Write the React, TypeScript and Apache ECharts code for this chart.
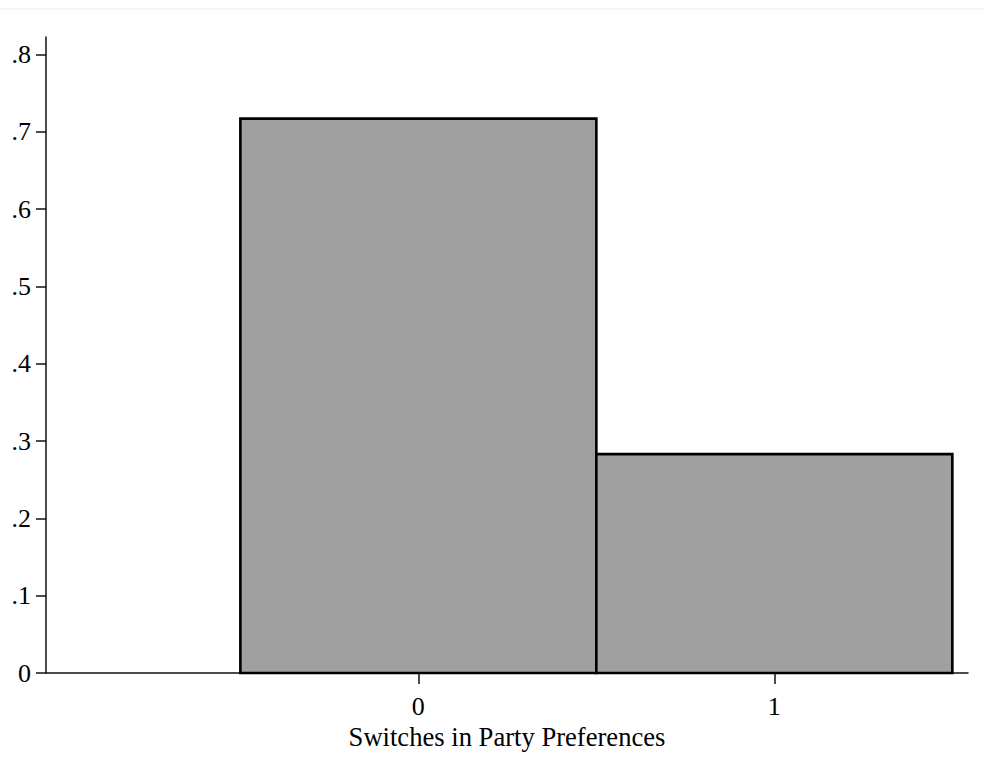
import React, { useEffect, useRef } from "react";
import * as echarts from "echarts";

const categories = [0, 1];
const fractions = [0.717, 0.283];
const yTicks = [0, 0.1, 0.2, 0.3, 0.4, 0.5, 0.6, 0.7, 0.8];
const xTicks = [0, 1];
const xTitle = "Switches in Party Preferences";

const FONT = "'Liberation Serif', 'Times New Roman', serif";

export default function App() {
  const ref = useRef<HTMLDivElement>(null);
  useEffect(() => {
    if (!ref.current) return;
    const chart = echarts.init(ref.current, undefined, { renderer: "svg" });
    const data = categories.map((c, i) => [c, fractions[i]]);
    chart.setOption({
      animation: false,
      backgroundColor: "#ffffff",
      grid: { left: 46, right: 16, top: 37, bottom: 101, containLabel: false },
      graphic: [
        {
          type: "line",
          shape: { x1: 0, y1: 9, x2: 984, y2: 9 },
          style: { stroke: "#e6ecec", lineWidth: 1 },
          silent: true,
        },
      ],
      xAxis: {
        type: "value",
        min: -1.046,
        max: 1.544,
        splitLine: { show: false },
        axisLine: { show: true, onZero: false, lineStyle: { color: "#111", width: 1.5 } },
        axisTick: { show: true, length: 11, customValues: xTicks, lineStyle: { color: "#111", width: 1.5 } },
        axisLabel: {
          customValues: xTicks,
          margin: 20,
          fontFamily: FONT,
          fontSize: 26,
          color: "#000",
          formatter: (v: number) => String(v),
        },
        name: xTitle,
        nameLocation: "middle",
        nameGap: 45,
        nameTextStyle: { fontFamily: FONT, fontSize: 26.6, color: "#000" },
      },
      yAxis: {
        type: "value",
        min: 0,
        max: 0.8225,
        splitLine: { show: false },
        axisLine: { show: true, onZero: false, lineStyle: { color: "#111", width: 1.5 } },
        axisTick: { show: true, length: 10, customValues: yTicks, lineStyle: { color: "#111", width: 1.5 } },
        axisLabel: {
          customValues: yTicks,
          margin: 15,
          fontFamily: FONT,
          fontSize: 26,
          color: "#000",
          formatter: (v: number) => (Math.abs(v) < 1e-9 ? "0" : v.toFixed(1).replace(/^0/, "")),
        },
      },
      series: [
        {
          type: "custom",
          data,
          encode: { x: 0, y: 1 },
          clip: false,
          renderItem: (params: any, api: any) => {
            const x = api.value(0);
            const y = api.value(1);
            const p0 = api.coord([x - 0.5, y]);
            const p1 = api.coord([x + 0.5, 0]);
            return {
              type: "rect",
              shape: { x: p0[0], y: p0[1], width: p1[0] - p0[0], height: p1[1] - p0[1] },
              style: { fill: "#a0a0a0", stroke: "#000", lineWidth: 2.6 },
            };
          },
        },
      ],
    });
    return () => chart.dispose();
  }, []);
  return (
    <div
      ref={ref}
      style={{ position: "fixed", left: 0, top: 0, width: 984, height: 774, background: "#fff" }}
    />
  );
}
